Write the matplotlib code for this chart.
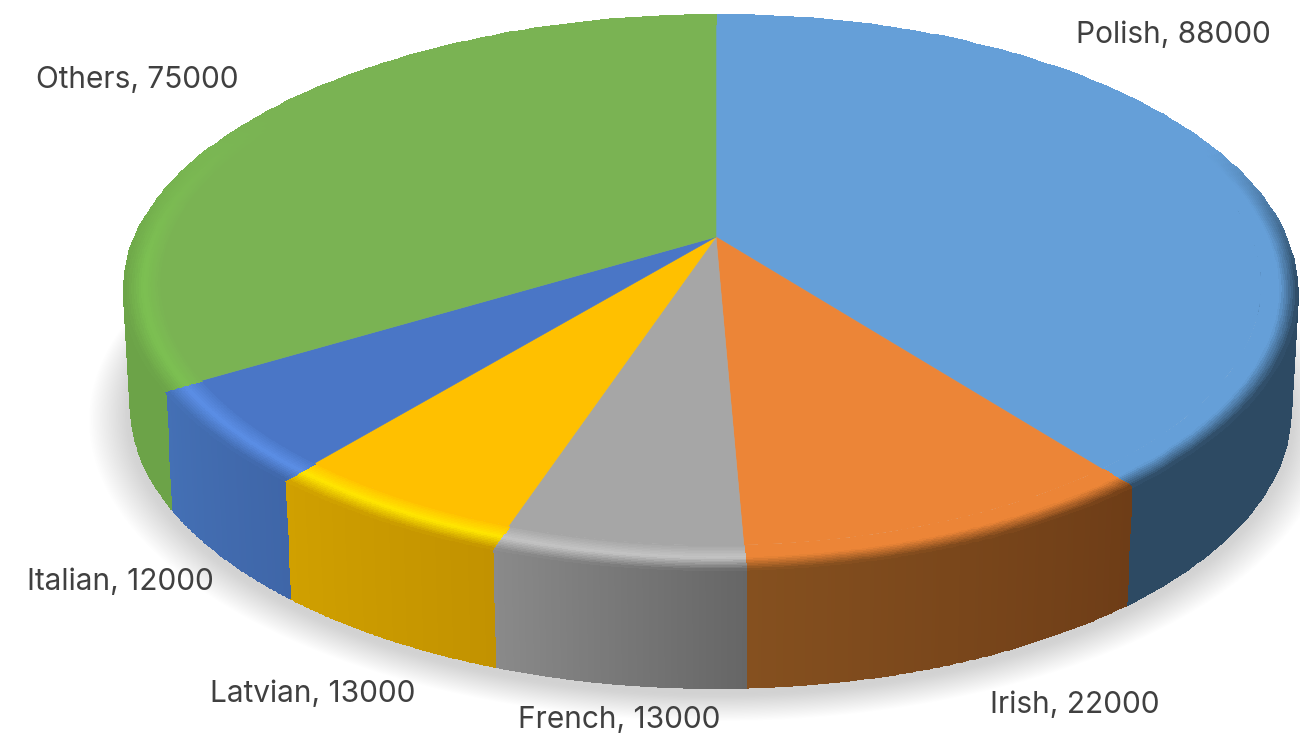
import numpy as np
import matplotlib
matplotlib.use('Agg')
import matplotlib.pyplot as plt
from matplotlib.colors import to_rgb

# data, clockwise from twelve o'clock
categories = ['Polish', 'Irish', 'French', 'Latvian', 'Italian', 'Others']
values = [88000, 22000, 13000, 13000, 12000, 75000]

# style per slice
top_colors = ['#659fd8', '#ec8537', '#a6a6a6', '#ffc000', '#4a76c6', '#7ab353']
rim_colors = ['#659fd8', '#ec8537', '#c4c4c4', '#ffe600', '#5b8ee6', '#7cc052']
wall_start = ['#2d4a63', '#6e3d17', '#666666', '#c29200', '#3f66a8', '#6ca348']
wall_end = ['#2d4a63', '#85501f', '#8a8a8a', '#d0a000', '#4470b5', '#6ca348']
label_xy = [(1076, 35), (990, 705), (518, 720), (210, 694), (27, 582), (36, 80)]

# projection of the tilted disc into pixels
cx, cy = 716, 237
a, b, k = 570, 267, 0.198
depth = 118
bevel = 0.94


def project(theta, r=1.0, z=0.0):
    X = r * np.sin(theta)
    Y = r * np.cos(theta)
    s = 1 + k * Y
    x = cx + a * X / s - 12 * np.clip(-X, 0, 1) ** 3
    y = cy - b * Y / s + z
    x = cx + (x - cx) * (1 - 0.012 * z / depth)
    return x, y


def lerp(c1, c2, t):
    return c1 + (c2 - c1) * t


fig = plt.figure(figsize=(13, 7.34), dpi=100)
ax = fig.add_axes([0, 0, 1, 1])
ax.set_xlim(0, 1300)
ax.set_ylim(734, 0)
ax.axis('off')

# soft shadow under the pie
ring = np.linspace(0, 2 * np.pi, 300)
for g in np.linspace(1.07, 1.0, 24):
    sx, sy = project(ring, 1.0, depth)
    ax.fill(cx + (sx - cx) * g, 300 + (sy - 300) * g + 6, color='#808080', alpha=0.010, lw=0, zorder=1)

fractions = np.array(values) / sum(values)
edges = np.concatenate([[0], np.cumsum(fractions)]) * 2 * np.pi

for i in range(len(values)):
    t = np.linspace(edges[i], edges[i + 1], 120)
    tc = (t[:-1] + t[1:]) / 2
    top = np.array(to_rgb(top_colors[i]))
    rim = np.array(to_rgb(rim_colors[i]))
    w1 = np.array(to_rgb(wall_start[i]))
    w2 = np.array(to_rgb(wall_end[i]))
    u = (tc - tc[0]) / (tc[-1] - tc[0])
    wall = w1[None, :] + (w2 - w1)[None, :] * u[:, None]

    # side wall
    zs = np.linspace(0, depth, 8)
    xm = np.array([project(t, 1.0, z)[0] for z in zs])
    ym = np.array([project(t, 1.0, z)[1] for z in zs])
    cm = np.repeat(wall[None, :, :], len(zs) - 1, axis=0)
    ax.pcolormesh(xm, ym, cm, shading='flat', edgecolor='face', linewidth=0.4, zorder=2)

    # rounded edge between the top face and the wall
    rs = np.linspace(bevel, 1.0, 17)
    xb = np.array([project(t, r)[0] for r in rs])
    yb = np.array([project(t, r)[1] for r in rs])
    sc = (np.arange(len(rs) - 1) + 0.5) / (len(rs) - 1)
    front = np.clip((0.35 - np.cos(tc)) / 0.5, 0, 1)[:, None]
    glow = np.clip((0.5 - np.cos(tc)) / 0.6, 0, 1)[:, None]
    rim_here = lerp(top[None, :], rim[None, :], glow)
    cb = np.zeros((len(rs) - 1, len(tc), 3))
    for j, s in enumerate(sc):
        if s < 0.5:
            cb[j] = lerp(top[None, :], rim_here, s / 0.5)
        else:
            cb[j] = lerp(rim_here, wall, ((s - 0.5) / 0.5) * front)
    ax.pcolormesh(xb, yb, cb, shading='flat', edgecolor='face', linewidth=0.4, zorder=3)

    # flat top face
    xt, yt = project(t, bevel)
    xc, yc = project(0.0, 0.0)
    ax.fill(np.r_[xc, xt], np.r_[yc, yt], color=top_colors[i], lw=0.4, zorder=4)

for i in range(len(values)):
    ax.text(label_xy[i][0], label_xy[i][1], f'{categories[i]}, {values[i]}', family='Inter',
            fontsize=21.5, color='#404040', va='center', ha='left', zorder=6)

fig.savefig('out.png', dpi=100)
